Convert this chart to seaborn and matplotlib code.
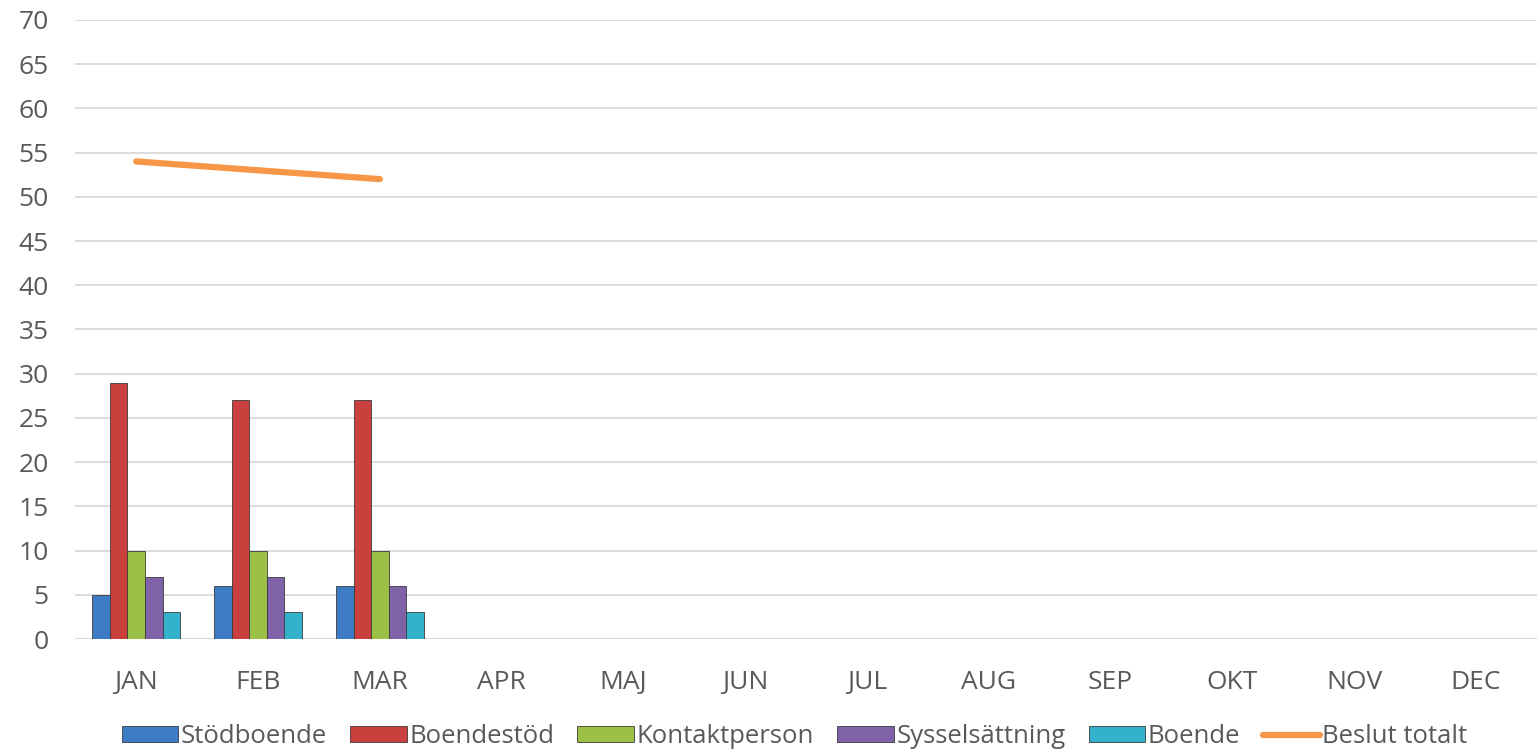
import numpy as np
import pandas as pd
import matplotlib
matplotlib.use("Agg")
import matplotlib.pyplot as plt
import seaborn as sns
from matplotlib.patches import Patch
from matplotlib.lines import Line2D

# Data
months = ["JAN", "FEB", "MAR", "APR", "MAJ", "JUN", "JUL", "AUG", "SEP", "OKT", "NOV", "DEC"]
series = ["Stödboende", "Boendestöd", "Kontaktperson", "Sysselsättning", "Boende"]
stodboende = [5, 6, 6]
boendestod = [29, 27, 27]
kontaktperson = [10, 10, 10]
sysselsattning = [7, 7, 6]
boende = [3, 3, 3]
beslut_totalt = [54, 53, 52]

colors = ["#3D7CC4", "#C9403C", "#9CC046", "#8062A8", "#35B2CB"]
line_color = "#F79646"
text_color = "#595959"

sns.set_theme(style="white")
plt.rcParams["font.family"] = ["Open Sans", "DejaVu Sans"]

rows = []
for name, vals in zip(series, [stodboende, boendestod, kontaktperson, sysselsattning, boende]):
    for m, v in zip(months[:len(vals)], vals):
        rows.append({"month": m, "serie": name, "value": v})
df = pd.DataFrame(rows)

fig = plt.figure(figsize=(15.37, 7.55), dpi=100)
ax = fig.add_axes([0.049, 0.1536, 0.951, 0.82])

sns.barplot(data=df, x="month", y="value", hue="serie", order=months,
            hue_order=series, palette=colors, saturation=1, width=0.72, gap=0.0,
            edgecolor="#3a3a3a", linewidth=0.6, ax=ax, legend=False)

line_df = pd.DataFrame({"x": np.arange(len(beslut_totalt)), "y": beslut_totalt})
sns.lineplot(data=line_df, x="x", y="y", color=line_color, linewidth=4.5,
             solid_capstyle="round", ax=ax, legend=False)

ax.set_xlim(-0.5, len(months) - 0.5)
ax.set_ylim(0, 70)
ax.set_yticks(np.arange(0, 71, 5))
ax.set_xticks(np.arange(len(months)))
ax.set_xticklabels(months)
ax.yaxis.grid(True, color="#D9D9D9", linewidth=1.3)
ax.set_axisbelow(True)
for s in ax.spines.values():
    s.set_visible(False)
ax.axhline(0, color="#D9D9D9", linewidth=1.5, zorder=0)
ax.set_xlabel("")
ax.set_ylabel("")
ax.tick_params(axis="both", length=0, labelsize=19, labelcolor=text_color)
ax.tick_params(axis="x", pad=22)
ax.tick_params(axis="y", pad=19)

handles = [Patch(facecolor=c, edgecolor="#3a3a3a", linewidth=0.6) for c in colors]
handles.append(Line2D([0], [0], color=line_color, linewidth=4.5, solid_capstyle="round"))
fig.legend(handles, series + ["Beslut totalt"], loc="center", bbox_to_anchor=(0.517, 0.024),
           ncol=6, frameon=False, fontsize=18.5, labelcolor=text_color,
           handlelength=2.2, handleheight=0.6, handletextpad=0.1, columnspacing=0.9)

fig.savefig("out.png", dpi=100)
